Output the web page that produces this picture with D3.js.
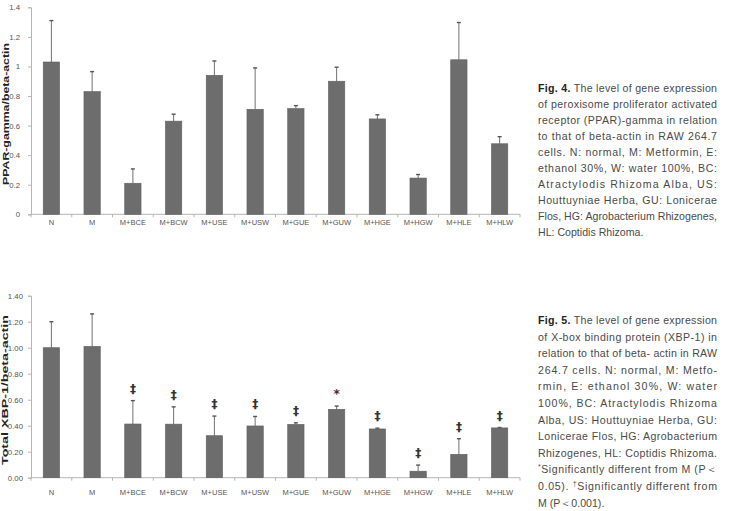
<!DOCTYPE html>
<html>
<head>
<meta charset="utf-8">
<script src="https://cdn.jsdelivr.net/npm/d3@7"></script>
<style>
  html, body { margin: 0; padding: 0; background: #fff; }
  svg { display: block; }
</style>
</head>
<body>
<div id="fig"></div>
<script>
// Gene expression bar charts (PPAR-gamma, XBP-1) with captions

var groups = ['N', 'M', 'M+BCE', 'M+BCW', 'M+USE', 'M+USW', 'M+GUE', 'M+GUW', 'M+HGE', 'M+HGW', 'M+HLE', 'M+HLW'];

var pparMean = [1.03, 0.83, 0.21, 0.63, 0.94, 0.71, 0.715, 0.90, 0.645, 0.245, 1.045, 0.477];
var pparSD = [0.28, 0.135, 0.097, 0.047, 0.097, 0.28, 0.02, 0.095, 0.028, 0.024, 0.252, 0.048];
var pparTicks = [0, 0.2, 0.4, 0.6, 0.8, 1, 1.2, 1.4];

var xbpMean = [1.00, 1.01, 0.413, 0.412, 0.323, 0.398, 0.41, 0.526, 0.375, 0.05, 0.18, 0.383];
var xbpSD = [0.20, 0.25, 0.18, 0.133, 0.151, 0.073, 0.012, 0.025, 0.006, 0.047, 0.12, 0.003];
var xbpMarks = ['', '', '\u2021', '\u2021', '\u2021', '\u2021', '\u2021', '*', '\u2021', '\u2021', '\u2021', '\u2021'];
var xbpTicks = [0, 0.2, 0.4, 0.6, 0.8, 1.0, 1.2, 1.4];

var caption4 = [
  [['Fig. 4.', true], [' The level of gene expression', false]],
  [['of peroxisome proliferator activated', false]],
  [['receptor (PPAR)-gamma in relation', false]],
  [['to that of beta-actin in RAW 264.7', false]],
  [['cells. N: normal, M: Metformin, E:', false]],
  [['ethanol 30%, W: water 100%, BC:', false]],
  [['Atractylodis Rhizoma Alba, US:', false]],
  [['Houttuyniae Herba, GU: Lonicerae', false]],
  [['Flos, HG: Agrobacterium Rhizogenes,', false]],
  [['HL: Coptidis Rhizoma.', false]]
];

var caption5 = [
  [['Fig. 5.', true], [' The level of gene expression', false]],
  [['of X-box binding protein (XBP-1) in', false]],
  [['relation to that of beta- actin in RAW', false]],
  [['264.7 cells. N: normal, M: Metfo-', false]],
  [['rmin, E: ethanol 30%, W: water', false]],
  [['100%, BC: Atractylodis Rhizoma', false]],
  [['Alba, US: Houttuyniae Herba, GU:', false]],
  [['Lonicerae Flos, HG: Agrobacterium', false]],
  [['Rhizogenes, HL: Coptidis Rhizoma.', false]],
  [['*', 'sup'], ['Significantly different from M (P\uFF1C', false]],
  [['0.05). ', false], ['\u2020', 'sup'], ['Significantly different from', false]],
  [['M (P\uFF1C0.001).', false]]
];

var W = 729, H = 511;
var svg = d3.select('#fig').append('svg').attr('width', W).attr('height', H);
svg.append('rect').attr('width', W).attr('height', H).attr('fill', '#fff');

var chartFont = '"Liberation Sans Narrow", "Liberation Sans", Arial, sans-serif';
var barColor = '#6d6d6d';
var axisColor = '#b5b5b5';
var tickText = '#555';

drawChart({
  top: 7.3, bottom: 214.3, mean: pparMean, sd: pparSD, ticks: pparTicks,
  fmt: d3.format(''), label: 'PPAR-gamma/beta-actin', labelY: 114, labelLen: 142,
  xLabelY: 225, tickRight: 20, labelX: 8.5
});

drawChart({
  top: 295.7, bottom: 477.7, mean: xbpMean, sd: xbpSD, ticks: xbpTicks,
  fmt: d3.format('.2f'), label: 'Total XBP-1/beta-actin', labelY: 390, labelLen: 150,
  xLabelY: 495, tickRight: 23, labelX: 7.5, marks: xbpMarks
});

drawCaption(caption4, 92, 16);
drawCaption(caption5, 324, 16.6);

function drawChart(o) {
  var x = d3.scaleBand().domain(groups).range([31, 520]).paddingInner(0.6).paddingOuter(0.3);
  var y = d3.scaleLinear().domain([0, 1.4]).range([o.bottom, o.top]);
  var g = svg.append('g');

  // y axis
  g.append('g')
    .attr('transform', 'translate(31,0)')
    .call(d3.axisLeft(y).tickValues(o.ticks).tickFormat(o.fmt).tickSize(3).tickPadding(31 - o.tickRight - 3))
    .call(function (a) { a.selectAll('text').attr('font-size', 7.8).attr('fill', tickText).attr('font-family', chartFont); })
    .call(function (a) { a.selectAll('line,path').attr('stroke', axisColor); });

  // x axis: ticks at band boundaries
  var xa = g.append('g');
  xa.append('line')
    .attr('x1', 31).attr('x2', 520)
    .attr('y1', o.bottom).attr('y2', o.bottom)
    .attr('stroke', axisColor);
  xa.selectAll('.bt')
    .data(groups.concat(['end']))
    .join('line')
    .attr('class', 'bt')
    .attr('x1', function (d, i) { return 31 + i * x.step(); })
    .attr('x2', function (d, i) { return 31 + i * x.step(); })
    .attr('y1', o.bottom).attr('y2', o.bottom + 3)
    .attr('stroke', axisColor);
  xa.selectAll('.xl')
    .data(groups)
    .join('text')
    .attr('class', 'xl')
    .attr('x', function (d) { return x(d) + x.bandwidth() / 2; })
    .attr('y', o.xLabelY)
    .attr('text-anchor', 'middle')
    .attr('font-size', 7.5)
    .attr('font-family', chartFont)
    .attr('fill', tickText)
    .text(function (d) { return d; });

  // y label
  g.append('text')
    .attr('transform', 'translate(' + o.labelX + ',' + o.labelY + ') rotate(-90)')
    .attr('text-anchor', 'middle')
    .attr('font-size', 9)
    .attr('font-weight', 'bold')
    .attr('font-family', '"Liberation Sans", Arial, sans-serif')
    .attr('fill', '#222')
    .attr('textLength', o.labelLen)
    .attr('lengthAdjust', 'spacingAndGlyphs')
    .text(o.label);

  // error bars
  var eb = g.selectAll('.eb')
    .data(groups)
    .join('g')
    .attr('class', 'eb')
    .attr('transform', function (d) { return 'translate(' + (x(d) + x.bandwidth() / 2) + ',0)'; });
  eb.append('line')
    .attr('y1', function (d, i) { return y(o.mean[i]); })
    .attr('y2', function (d, i) { return y(o.mean[i] + o.sd[i]); })
    .attr('stroke', '#707070').attr('stroke-width', 1);
  eb.append('line')
    .attr('x1', -2).attr('x2', 2)
    .attr('y1', function (d, i) { return y(o.mean[i] + o.sd[i]); })
    .attr('y2', function (d, i) { return y(o.mean[i] + o.sd[i]); })
    .attr('stroke', '#555').attr('stroke-width', 1.4);

  // bars
  g.selectAll('.bar')
    .data(groups)
    .join('rect')
    .attr('class', 'bar')
    .attr('x', function (d) { return x(d); })
    .attr('width', x.bandwidth())
    .attr('y', function (d, i) { return y(o.mean[i]); })
    .attr('height', function (d, i) { return y(0) - y(o.mean[i]); })
    .attr('fill', barColor)
    .attr('stroke', '#5e5e5e')
    .attr('stroke-width', 0.6);

  if (o.marks) {
    g.selectAll('.mk')
      .data(groups)
      .join('text')
      .attr('class', 'mk')
      .attr('x', function (d) { return x(d) + x.bandwidth() / 2; })
      .attr('y', function (d, i) { return y(o.mean[i] + o.sd[i]) - 8; })
      .attr('text-anchor', 'middle')
      .attr('font-size', 12)
      .attr('font-weight', 'bold')
      .attr('font-family', '"DejaVu Sans", sans-serif')
      .attr('fill', '#333')
      .text(function (d, i) { return o.marks[i]; });
  }
}

function drawCaption(lines, y0, lh) {
  var left = 538, width = 179;
  lines.forEach(function (parts, i) {
    var t = svg.append('text')
      .attr('x', left)
      .attr('y', y0 + i * lh)
      .attr('font-size', 10.6)
      .attr('font-family', '"Liberation Sans", Arial, sans-serif')
      .attr('fill', '#4a4a4a');
    if (i < lines.length - 1) {
      t.attr('textLength', width).attr('lengthAdjust', 'spacing');
    }
    parts.forEach(function (p) {
      var s = t.append('tspan').text(p[0]);
      if (p[1] === true) s.attr('font-weight', 'bold').attr('fill', '#222');
      if (p[1] === 'sup') s.attr('font-size', 7).attr('dy', -4).attr('class', 'sup');
    });
    // restore baseline after superscripts
    t.selectAll('tspan').each(function (d, k, nodes) {
      var prev = k > 0 ? nodes[k - 1] : null;
      if (prev && d3.select(prev).classed('sup')) d3.select(this).attr('dy', 4);
    });
  });
}
</script>
</body>
</html>
